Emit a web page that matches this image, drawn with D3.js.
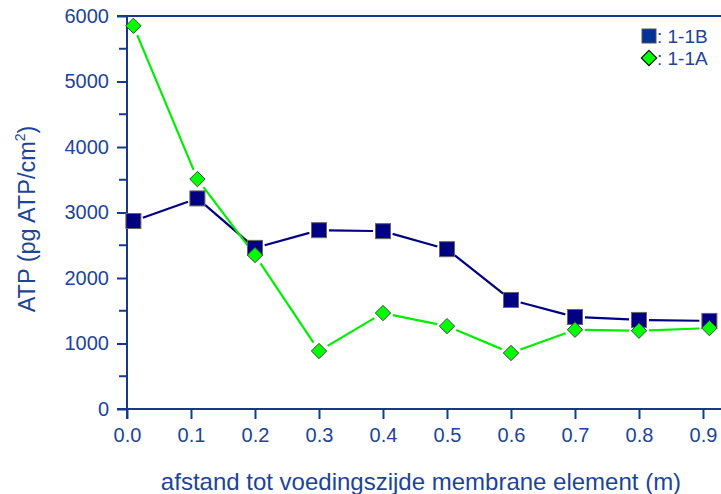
<!DOCTYPE html>
<html>
<head>
<meta charset="utf-8">
<script src="https://cdn.jsdelivr.net/npm/d3@7"></script>
<style>
  html, body { margin:0; padding:0; background:#fff; }
  svg { display:block; font-family: "Liberation Sans", Arial, sans-serif; }
</style>
</head>
<body>
<svg id="chart" width="721" height="494"></svg>
<script>
/* ---------- data --------------------------------------------- */
const xPos    = [0.01, 0.11, 0.2, 0.3, 0.4, 0.5, 0.6, 0.7, 0.8, 0.91];
const atp1B   = [2870, 3215, 2460, 2730, 2715, 2440, 1665, 1405, 1360, 1345];
const atp1A   = [5850, 3510, 2350, 885, 1465, 1265, 855, 1210, 1195, 1235];
const xTicks  = [0, 0.1, 0.2, 0.3, 0.4, 0.5, 0.6, 0.7, 0.8, 0.9];
const yTicks  = [0, 1000, 2000, 3000, 4000, 5000, 6000];
const yMinor  = [500, 1500, 2500, 3500, 4500, 5500];

const axisCol = "#16398c";
const textCol = "#1d4496";

const svg = d3.select("#chart");
const x = d3.scaleLinear().domain([0, 1]).range([127, 767]);
const y = d3.scaleLinear().domain([0, 6000]).range([409, 16]);

/* ---------- axes --------------------------------------------- */
const yAxis = svg.append("g")
    .attr("transform", "translate(127,0)")
    .call(d3.axisLeft(y).tickValues(yTicks).tickSize(10).tickPadding(8)
            .tickFormat(d3.format("d")));
yAxis.select(".domain").remove();
yAxis.selectAll(".tick line").attr("stroke", axisCol).attr("stroke-width", 2);
yAxis.selectAll(".tick text").attr("fill", textCol).attr("font-size", 20)
     .attr("font-family", "Liberation Sans, Arial, sans-serif");

svg.append("g").selectAll("line").data(yMinor).join("line")
    .attr("x1", 119).attr("x2", 127)
    .attr("y1", d => y(d)).attr("y2", d => y(d))
    .attr("stroke", axisCol).attr("stroke-width", 2);

const xAxis = svg.append("g")
    .attr("transform", "translate(0,409)")
    .call(d3.axisBottom(x).tickValues(xTicks).tickSize(10).tickPadding(9)
            .tickFormat(d3.format(".1f")));
xAxis.select(".domain").remove();
xAxis.selectAll(".tick line").attr("stroke", axisCol).attr("stroke-width", 2);
xAxis.selectAll(".tick text").attr("fill", textCol).attr("font-size", 20)
     .attr("font-family", "Liberation Sans, Arial, sans-serif");

// frame lines: left axis, baseline, top
svg.append("line").attr("x1", 127).attr("x2", 127).attr("y1", 16).attr("y2", 419)
   .attr("stroke", axisCol).attr("stroke-width", 2);
svg.append("line").attr("x1", 117).attr("x2", 721).attr("y1", 409).attr("y2", 409)
   .attr("stroke", axisCol).attr("stroke-width", 2);
svg.append("line").attr("x1", 117).attr("x2", 721).attr("y1", 16).attr("y2", 16)
   .attr("stroke", axisCol).attr("stroke-width", 2);

/* ---------- axis titles -------------------------------------- */
svg.append("text")
    .attr("x", 421).attr("y", 490)
    .attr("text-anchor", "middle")
    .attr("fill", textCol).attr("font-size", 24)
    .text("afstand tot voedingszijde membrane element (m)");

const yt = svg.append("text")
    .attr("transform", "translate(35,219) rotate(-90)")
    .attr("text-anchor", "middle")
    .attr("fill", textCol).attr("font-size", 23.5);
yt.append("tspan").text("ATP (pg ATP/cm");
yt.append("tspan").attr("dy", -10).attr("font-size", 14).text("2");
yt.append("tspan").attr("dy", 10).text(")");

/* ---------- series: lines with gaps near markers ------------- */
const gapR = 10;
function drawSeries(vals, colour) {
  const pts = xPos.map((d, i) => [x(d), y(vals[i])]);
  const segs = d3.pairs(pts).map(([a, b]) => {
    const dx = b[0] - a[0], dy = b[1] - a[1];
    const len = Math.hypot(dx, dy);
    const ux = dx / len, uy = dy / len;
    return [a[0] + ux*gapR, a[1] + uy*gapR, b[0] - ux*gapR, b[1] - uy*gapR];
  });
  svg.append("g").selectAll("line").data(segs).join("line")
      .attr("x1", d => d[0]).attr("y1", d => d[1])
      .attr("x2", d => d[2]).attr("y2", d => d[3])
      .attr("stroke", colour).attr("stroke-width", 2.2);
}
drawSeries(atp1B, "#000080");
drawSeries(atp1A, "#00ee00");

// markers
const sq = 15;
svg.append("g").selectAll("rect").data(atp1B).join("rect")
    .attr("x", (d, i) => x(xPos[i]) - sq/2)
    .attr("y", d => y(d) - sq/2)
    .attr("width", sq).attr("height", sq)
    .attr("fill", "#000080").attr("stroke", "#666").attr("stroke-width", 1);

const diamond = d3.symbol().type(d3.symbolDiamond2).size(150);
svg.append("g").selectAll("path").data(atp1A).join("path")
    .attr("d", diamond)
    .attr("transform", (d, i) => `translate(${x(xPos[i])},${y(d)})`)
    .attr("fill", "#00ff00").attr("stroke", "#444").attr("stroke-width", 1);

/* ---------- legend ------------------------------------------- */
const leg = svg.append("g");
leg.append("rect").attr("x", 642).attr("y", 29).attr("width", 14).attr("height", 14)
   .attr("fill", "#003399").attr("stroke", "#555").attr("stroke-width", 1);
leg.append("text").attr("x", 657).attr("y", 43).attr("fill", textCol).attr("font-size", 19)
   .text(": 1-1B");
leg.append("path").attr("d", diamond)
   .attr("transform", "translate(649,58)")
   .attr("fill", "#00ff00").attr("stroke", "#111").attr("stroke-width", 1.2);
leg.append("text").attr("x", 657).attr("y", 65).attr("fill", textCol).attr("font-size", 19)
   .text(": 1-1A");
</script>
</body>
</html>
